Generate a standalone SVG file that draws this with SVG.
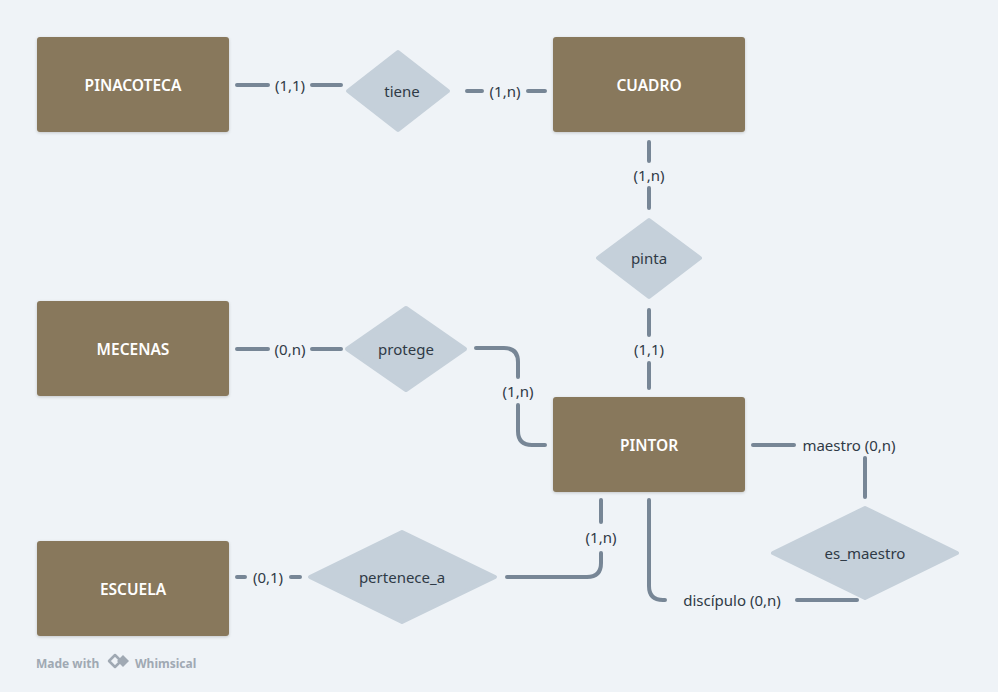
<svg xmlns="http://www.w3.org/2000/svg" width="998" height="692" viewBox="0 0 998 692">
<defs>
<style>
.ent rect{fill:#88785c;}
.ent text{fill:#ffffff;font-family:"Noto Sans","Liberation Sans",sans-serif;font-size:15.5px;font-weight:600;text-anchor:middle;dominant-baseline:central;}
.rel polygon{fill:#c5d0da;stroke:#c5d0da;stroke-width:4;stroke-linejoin:round;}
.rel text{fill:#2f3a46;font-family:"Noto Sans","Liberation Sans",sans-serif;font-size:15px;text-anchor:middle;dominant-baseline:central;}
.con path{fill:none;stroke:#778696;stroke-width:4;stroke-linecap:round;stroke-linejoin:round;}
.lbl{fill:#2f3a46;font-family:"Noto Sans","Liberation Sans",sans-serif;font-size:15px;text-anchor:middle;dominant-baseline:central;}
.wm{fill:#a0a9b3;font-family:"Noto Sans","Liberation Sans",sans-serif;font-size:12px;font-weight:bold;}
</style>
<filter id="sh" x="-10%" y="-10%" width="120%" height="130%">
<feDropShadow dx="0" dy="1" stdDeviation="1.5" flood-color="#000" flood-opacity="0.18"/>
</filter>
</defs>
<rect width="998" height="692" fill="#eff3f7"/>

<g id="connectors" class="con">
<path d="M237 85 H268 M312 85 H341"/>
<path d="M467 91 H482 M528 91 H545"/>
<path d="M649 142 V161 M649 188 V208"/>
<path d="M649 310 V335 M649 363 V388"/>
<path d="M237 349 H268 M312 349 H341"/>
<path d="M476 348 H504 Q518 348 518 362 V377 M518 405 V431 Q518 445 532 445 H545"/>
<path d="M753 445 H794"/>
<path d="M865 458 V497"/>
<path d="M649 500 V586 Q649 600 663 600 H665"/>
<path d="M797 600 H857"/>
<path d="M601 500 V522 M601 553 V563 Q601 577 587 577 H507"/>
<path d="M237 577 H245 M291 577 H300"/>
</g>
<g id="labels">
<text class="lbl" x="290" y="85">(1,1)</text>
<text class="lbl" x="505" y="91">(1,n)</text>
<text class="lbl" x="649" y="175">(1,n)</text>
<text class="lbl" x="649" y="349">(1,1)</text>
<text class="lbl" x="290" y="349">(0,n)</text>
<text class="lbl" x="518" y="391">(1,n)</text>
<text class="lbl" x="849" y="445">maestro (0,n)</text>
<text class="lbl" x="732" y="600">discípulo (0,n)</text>
<text class="lbl" x="601" y="537">(1,n)</text>
<text class="lbl" x="268" y="577">(0,1)</text>
</g>

<g id="PINACOTECA" class="ent"><rect x="37" y="37" width="192" height="95" rx="3" filter="url(#sh)"/><text x="133" y="85">PINACOTECA</text></g>
<g id="CUADRO" class="ent"><rect x="553" y="37" width="192" height="95" rx="3" filter="url(#sh)"/><text x="649" y="85">CUADRO</text></g>
<g id="MECENAS" class="ent"><rect x="37" y="301" width="192" height="95" rx="3" filter="url(#sh)"/><text x="133" y="349">MECENAS</text></g>
<g id="PINTOR" class="ent"><rect x="553" y="397" width="192" height="95" rx="3" filter="url(#sh)"/><text x="649" y="445">PINTOR</text></g>
<g id="ESCUELA" class="ent"><rect x="37" y="541" width="192" height="95" rx="3" filter="url(#sh)"/><text x="133" y="589">ESCUELA</text></g>

<g id="tiene" class="rel"><polygon points="398,52 448,91 398,130 348,91"/><text x="402" y="91">tiene</text></g>
<g id="pinta" class="rel"><polygon points="649,220 700,258 649,297 598,258"/><text x="649" y="258">pinta</text></g>
<g id="protege" class="rel"><polygon points="406,308 465,349 406,390 347,349"/><text x="406" y="349">protege</text></g>
<g id="es_maestro" class="rel"><polygon points="865,508 957,553 865,598 773,553"/><text x="865" y="553">es_maestro</text></g>
<g id="pertenece_a" class="rel"><polygon points="402,532 495,577 402,622 310,577"/><text x="402" y="577">pertenece_a</text></g>

<g id="watermark">
<text class="wm" x="36" y="668">Made with</text>
<polygon points="115,655 121,661 115,667 109,661" fill="none" stroke="#a0a9b3" stroke-width="2.5" stroke-linejoin="round"/>
<polygon points="123,655 129,661 123,667 117,661" fill="#a0a9b3"/>
<text class="wm" x="135" y="668">Whimsical</text>
</g>
</svg>
